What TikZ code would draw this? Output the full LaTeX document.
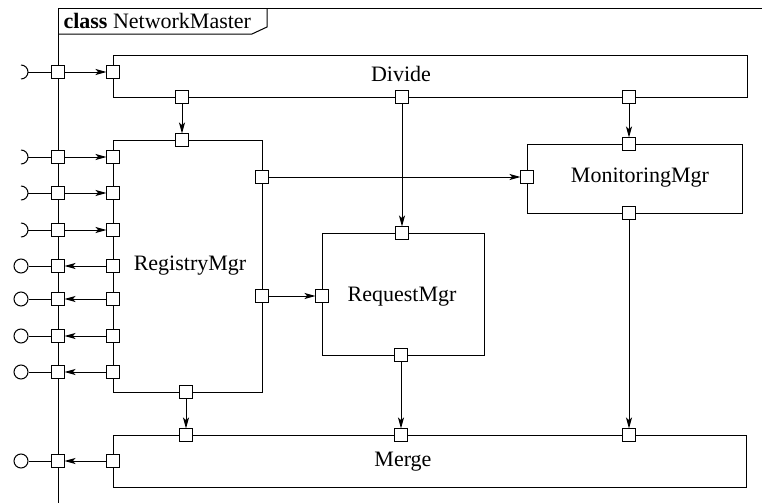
\documentclass[tikz,border=0pt]{standalone}
\usepackage{fontspec}
\setmainfont{Liberation Serif}
\usetikzlibrary{arrows.meta}
\begin{document}
\begin{tikzpicture}[x=0.5pt,y=-0.5pt,
  line width=0.5pt,
  port/.style={draw,fill=white,minimum size=6.5pt,inner sep=0pt,outer sep=0pt},
  box/.style={draw,inner sep=0pt,outer sep=0pt},
  lbl/.style={font=\fontsize{11}{13}\selectfont,inner sep=0pt},
  conn/.style={-{Stealth[length=5.5pt,width=3pt,inset=1.3pt]}},
]
\useasboundingbox (0,0) rectangle (762,503);
% frame
\draw (762,8) -- (58,8) -- (58,503);
\draw (58,34) -- (252,34) -- (267,27) -- (267,8);
\node[lbl,anchor=west] (title) at (63,21) {\textbf{class} NetworkMaster};

% boxes
\node[box,minimum width=317pt,minimum height=21pt] (divide) at (430,76) {};
\node[box,minimum width=74.5pt,minimum height=126pt] (registry) at (187.5,266) {};
\node[box,minimum width=81pt,minimum height=61pt] (request) at (403,294) {};
\node[box,minimum width=107.5pt,minimum height=34.5pt] (monitor) at (634.5,178.5) {};
\node[box,minimum width=316.5pt,minimum height=26pt] (merge) at (429.5,461) {};

\node[lbl] (tdiv) at (401,74) {Divide};
\node[lbl] (treg) at (190,266) {RegistryMgr};
\node[lbl] (treq) at (402,297) {RequestMgr};
\node[lbl] (tmon) at (640,178) {MonitoringMgr};
\node[lbl] (tmer) at (403,462) {Merge};

% frame ports and inner left ports
\foreach \n/\y in {a/72,b/157,c/193,d/230,e/266,f/299,g/336,h/372,i/461}{
  \node[port] (fp\n) at (58,\y) {};
}
\node[port] (dvin) at (113,72) {};
\foreach \n/\y in {b/157,c/193,d/230,e/266,f/299,g/336,h/372}{
  \node[port] (rg\n) at (113,\y) {};
}
\node[port] (mgout) at (113,461) {};

% other ports
\node[port] (dv1) at (182,97) {};
\node[port] (dv2) at (402,97) {};
\node[port] (dv3) at (629,97) {};
\node[port] (rgtop) at (182,140) {};
\node[port] (rgr1) at (262,177) {};
\node[port] (rgr2) at (262,296) {};
\node[port] (rgbot) at (186,392) {};
\node[port] (rqtop) at (402,233) {};
\node[port] (rqin) at (322,296) {};
\node[port] (rqbot) at (401,355) {};
\node[port] (mnin) at (527,177) {};
\node[port] (mntop) at (629,144) {};
\node[port] (mnbot) at (629,213) {};
\node[port] (mg1) at (186,435) {};
\node[port] (mg2) at (401,435) {};
\node[port] (mg3) at (629,435) {};

% required interfaces
\foreach \n/\y in {a/72,b/157,c/193,d/230}{
  \coordinate (rq\n) at (28,\y);
  \draw (21,\y-7) arc[start angle=90,end angle=-90,radius=3.5pt];
  \draw (rq\n) -- (fp\n);
}
% provided interfaces
\foreach \n/\y in {e/266,f/299,g/336,h/372,i/461}{
  \node[draw,circle,minimum size=7pt,inner sep=0pt] (pv\n) at (21,\y) {};
  \draw (pv\n) -- (fp\n);
}

% connectors
\draw[conn] (fpa) -- (dvin);
\draw[conn] (fpb) -- (rgb);
\draw[conn] (fpc) -- (rgc);
\draw[conn] (fpd) -- (rgd);
\draw[conn] (rge) -- (fpe);
\draw[conn] (rgf) -- (fpf);
\draw[conn] (rgg) -- (fpg);
\draw[conn] (rgh) -- (fph);
\draw[conn] (mgout) -- (fpi);

\draw[conn] (dv1) -- (rgtop);
\draw[conn] (dv2) -- (rqtop);
\draw[conn] (dv3) -- (mntop);
\draw[conn] (rgr1) -- (mnin);
\draw[conn] (rgr2) -- (rqin);
\draw[conn] (rgbot) -- (mg1);
\draw[conn] (rqbot) -- (mg2);
\draw[conn] (mnbot) -- (mg3);
\end{tikzpicture}
\end{document}
